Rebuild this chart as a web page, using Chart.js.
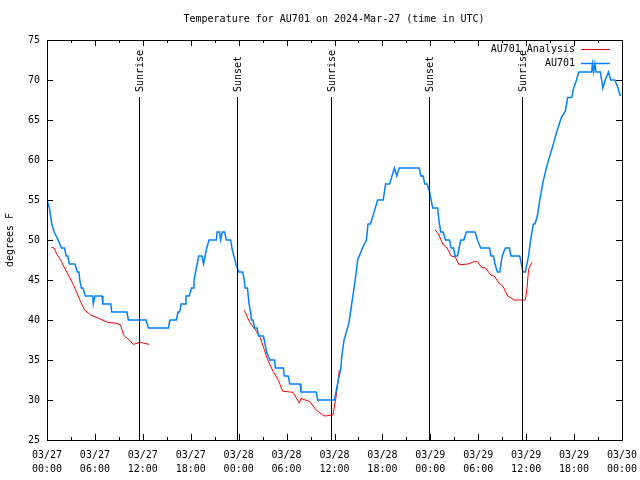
<!DOCTYPE html>
<html>
<head>
<meta charset="utf-8">
<script src="https://cdn.jsdelivr.net/npm/chart.js@4.4.1/dist/chart.umd.min.js"></script>
<style>
  html, body { margin: 0; padding: 0; background: #fff; }
  canvas { display: block; }
</style>
</head>
<body>
<canvas id="tempChart" width="640" height="480"></canvas>
<script>
// hours since 2024-03-27 00:00 UTC
const blueHours = [0, 0.3, 0.45, 0.6, 0.9, 1.4, 1.8, 2.2, 2.4, 2.6, 2.8, 3.5, 3.8, 4.0, 4.1, 4.3, 4.5, 4.8, 5.7, 5.8, 6.0, 6.9, 7.0, 8.0, 8.1, 10.0, 10.2, 12.4, 12.7, 15.2,
  15.4, 16.2, 16.4, 16.6, 16.8, 17.3, 17.4, 17.8, 18.1, 18.3, 18.4, 18.6, 18.8, 19.0, 19.4, 19.6, 19.8, 20.0, 20.3, 21.2, 21.3, 21.6, 21.75, 21.95, 22.25, 22.45, 23.0, 23.15, 23.4, 23.65,
  24.0, 24.5, 24.7, 24.8, 25.1, 25.2, 25.3, 25.5, 25.6, 25.8, 26.0, 26.3, 26.5, 27.1, 27.3, 27.5, 27.9, 28.5, 28.6, 29.6, 29.7, 30.2, 30.4, 31.7, 31.8, 33.7, 33.9, 36.0,
  36.3, 36.8, 36.9, 37.2, 37.8, 38.1, 38.4, 38.7, 38.9, 39.5, 40.0, 40.2, 40.5, 40.9, 41.4, 42.1, 42.4, 42.9, 43.2, 43.5, 43.8, 44.1, 46.6, 46.8, 47.1, 47.3, 47.6, 47.9,
  48.1, 48.3, 48.9, 49.1, 49.3, 49.6, 49.9, 50.4, 50.6, 50.9, 51.1, 51.4, 51.6, 51.8, 52.2, 52.5, 53.6, 53.9, 54.3, 55.4, 55.6, 55.9, 56.1, 56.4, 56.7, 57.0, 57.4, 57.9,
  58.1, 59.2, 59.4, 59.6, 59.9, 60.3, 60.6, 60.9, 61.1, 61.4, 61.7, 62.1, 62.6, 63.2, 63.8, 64.4, 64.9, 65.2, 65.7, 65.9, 66.3, 66.6, 68.2, 68.3, 68.45, 68.6, 68.75,
  69.3, 69.45, 69.6, 69.9, 70.3, 70.6, 71.1, 71.5, 71.8];
const blueTemps = [55, 54, 53, 52, 51, 50, 49, 49, 48, 48, 47, 47, 46, 46, 45, 44, 44, 43, 43, 42, 43, 43, 42, 42, 41, 41, 40, 40, 39, 39,
  40, 40, 41, 41, 42, 42, 43, 43, 44, 44, 45, 46, 47, 48, 48, 47, 48, 49, 50, 50, 51, 51, 50, 51, 51, 50, 50, 49, 48, 47,
  46, 46, 45, 44, 44, 43, 42, 41, 40, 40, 39, 39, 38, 38, 37, 36, 35, 35, 34, 34, 33, 33, 32, 32, 31, 31, 30, 30,
  31.6, 34, 35.4, 37.5, 39.6, 41.6, 43.7, 45.8, 47.5, 49, 50, 52, 52, 53.3, 55, 55, 57, 57, 58, 59, 58, 59, 59, 58, 58, 57, 57, 56,
  55, 54, 54, 52.3, 51, 51, 50, 50, 49, 49, 48, 48, 49, 50, 50, 51, 51, 50, 49, 49, 48, 48, 47, 46, 46, 48, 49, 49,
  48, 48, 47, 46, 46, 48, 50.3, 52, 52, 53, 55, 57.2, 59.3, 61.3, 63.4, 65.3, 66.1, 67.8, 67.8, 68.8, 70, 71, 71, 72, 71, 72, 71,
  71, 70, 69, 70, 71, 70, 70, 69, 68];

const redHours = [0.54, 0.88, 1.2, 1.7, 2.2, 2.8, 3.3, 3.7, 4.2, 4.7, 5.5, 6.5, 7.6, 8.6, 9.2, 9.6, 10.3, 10.8, 11.7, 12.8,
  18,
  24.7, 25.4, 26.2, 26.7, 27.2, 27.6, 28.3, 29.0, 29.5, 30.8, 31.6, 31.8, 32.9, 33.7, 34.7, 35.8, 36.2, 36.6,
  42,
  48.6, 49.0, 49.6, 50.1, 50.6, 51.1, 51.6, 52.7, 53.5, 53.9, 54.4, 54.9, 55.6, 56.0, 56.6, 57.1, 57.7, 58.5, 59.9, 60.1, 60.3, 60.7];
const redTemps = [49.1, 49.0, 48.3, 47.5, 46.5, 45.4, 44.4, 43.5, 42.3, 41.25, 40.6, 40.2, 39.7, 39.6, 39.4, 38.1, 37.5, 36.95, 37.2, 36.95,
  null,
  41.2, 39.7, 38.6, 37.8, 36.3, 35.1, 33.6, 32.4, 31.1, 30.96, 29.6, 30.2, 29.8, 28.75, 28.0, 28.1, 30.4, 33.75,
  null,
  51.25, 50.8, 49.4, 49.0, 48.0, 47.9, 46.9, 47.0, 47.3, 47.3, 46.6, 46.5, 45.6, 45.5, 44.6, 44.2, 43.0, 42.5, 42.5, 43.9, 46.3, 47.2];

const sunHours = [11.57, 23.83, 35.5, 47.87, 59.5];
const sunNames = ['Sunrise', 'Sunset', 'Sunrise', 'Sunset', 'Sunrise'];

const chartTitle = 'Temperature for AU701 on 2024-Mar-27 (time in UTC)';
const FONT = '10px "DejaVu Sans Mono", "Liberation Mono", monospace';

function pairs(xs, ys) {
  return xs.map((x, i) => ({ x, y: ys[i] }));
}

function tickLabel(h) {
  const day = 27 + Math.floor(h / 24);
  const hh = h % 24;
  return ['03/' + day, String(hh).padStart(2, '0') + ':00'];
}

// title, frame, inward ticks, sun lines and the legend, gnuplot style
const overlay = {
  id: 'overlay',
  afterDatasetsDraw(chart) {
    const ctx = chart.ctx;
    const a = chart.chartArea;
    const xs = chart.scales.x;
    const ys = chart.scales.y;
    ctx.save();
    ctx.strokeStyle = '#000';
    ctx.fillStyle = '#000';
    ctx.lineWidth = 1;
    ctx.font = FONT;

    ctx.textAlign = 'center';
    ctx.textBaseline = 'middle';
    ctx.fillText(chartTitle, 334, 19);

    // sunrise / sunset markers
    sunHours.forEach((h, i) => {
      const px = Math.round(xs.getPixelForValue(h)) + 0.5;
      ctx.beginPath();
      ctx.moveTo(px, 97);
      ctx.lineTo(px, a.bottom);
      ctx.stroke();
      ctx.save();
      ctx.translate(px + 1, 92);
      ctx.rotate(-Math.PI / 2);
      ctx.textAlign = 'left';
      ctx.textBaseline = 'middle';
      ctx.fillText(sunNames[i], 0, 0);
      ctx.restore();
    });

    // border
    ctx.strokeRect(Math.round(a.left) + 0.5, Math.round(a.top) + 0.5,
      Math.round(a.right - a.left), Math.round(a.bottom - a.top));

    // x ticks every 3 h
    for (let h = 0; h <= 72; h += 3) {
      const px = Math.round(xs.getPixelForValue(h)) + 0.5;
      const len = h % 6 === 0 ? 6 : 3;
      ctx.beginPath();
      ctx.moveTo(px, a.bottom);
      ctx.lineTo(px, a.bottom - len);
      ctx.moveTo(px, a.top);
      ctx.lineTo(px, a.top + len);
      ctx.stroke();
    }
    // y ticks every 5 degrees
    for (let t = 25; t <= 75; t += 5) {
      const py = Math.round(ys.getPixelForValue(t)) + 0.5;
      ctx.beginPath();
      ctx.moveTo(a.left, py);
      ctx.lineTo(a.left + 6, py);
      ctx.moveTo(a.right, py);
      ctx.lineTo(a.right - 6, py);
      ctx.stroke();
    }

    // legend
    const order = [1, 0];
    order.forEach((di, row) => {
      const ds = chart.data.datasets[di];
      const ly = 49 + row * 14;
      ctx.textAlign = 'right';
      ctx.textBaseline = 'middle';
      ctx.fillStyle = '#000';
      ctx.fillText(ds.label, 575, ly);
      ctx.strokeStyle = ds.borderColor;
      ctx.lineWidth = ds.borderWidth;
      ctx.beginPath();
      ctx.moveTo(581, ly + 0.5);
      ctx.lineTo(610, ly + 0.5);
      ctx.stroke();
    });
    ctx.restore();
  }
};

new Chart(document.getElementById('tempChart'), {
  type: 'line',
  data: {
    datasets: [
      {
        label: 'AU701',
        data: pairs(blueHours, blueTemps),
        borderColor: '#0080ff',
        borderWidth: 1.5,
        pointRadius: 0,
        tension: 0,
        fill: false
      },
      {
        label: 'AU701_Analysis',
        data: pairs(redHours, redTemps),
        borderColor: '#ff0000',
        borderWidth: 1,
        pointRadius: 0,
        tension: 0,
        spanGaps: false,
        fill: false
      }
    ]
  },
  options: {
    responsive: false,
    animation: false,
    devicePixelRatio: 1,
    layout: { padding: { left: 0, right: 18, top: 40, bottom: 0 } },
    plugins: {
      legend: { display: false },
      tooltip: { enabled: false },
      title: { display: false }
    },
    scales: {
      x: {
        type: 'linear',
        min: 0,
        max: 72,
        grid: { display: false, drawTicks: false },
        border: { display: false },
        ticks: {
          stepSize: 6,
          autoSkip: false,
          maxRotation: 0,
          padding: 8,
          color: '#000',
          font: { family: '"DejaVu Sans Mono"', size: 10, lineHeight: 1.4 },
          callback: (v) => tickLabel(v)
        },
        afterFit: (s) => { s.height = 40; s.paddingLeft = 0; s.paddingRight = 0; }
      },
      y: {
        min: 25,
        max: 75,
        grid: { display: false, drawTicks: false },
        border: { display: false },
        ticks: {
          stepSize: 5,
          padding: 7,
          color: '#000',
          font: { family: '"DejaVu Sans Mono"', size: 10 }
        },
        title: {
          display: true,
          text: 'degrees F',
          color: '#000',
          font: { family: '"DejaVu Sans Mono"', size: 10 },
          padding: { top: 4, bottom: 0 }
        },
        afterFit: (s) => { s.width = 47; s.paddingTop = 0; s.paddingBottom = 0; }
      }
    }
  },
  plugins: [overlay]
});
</script>
</body>
</html>
